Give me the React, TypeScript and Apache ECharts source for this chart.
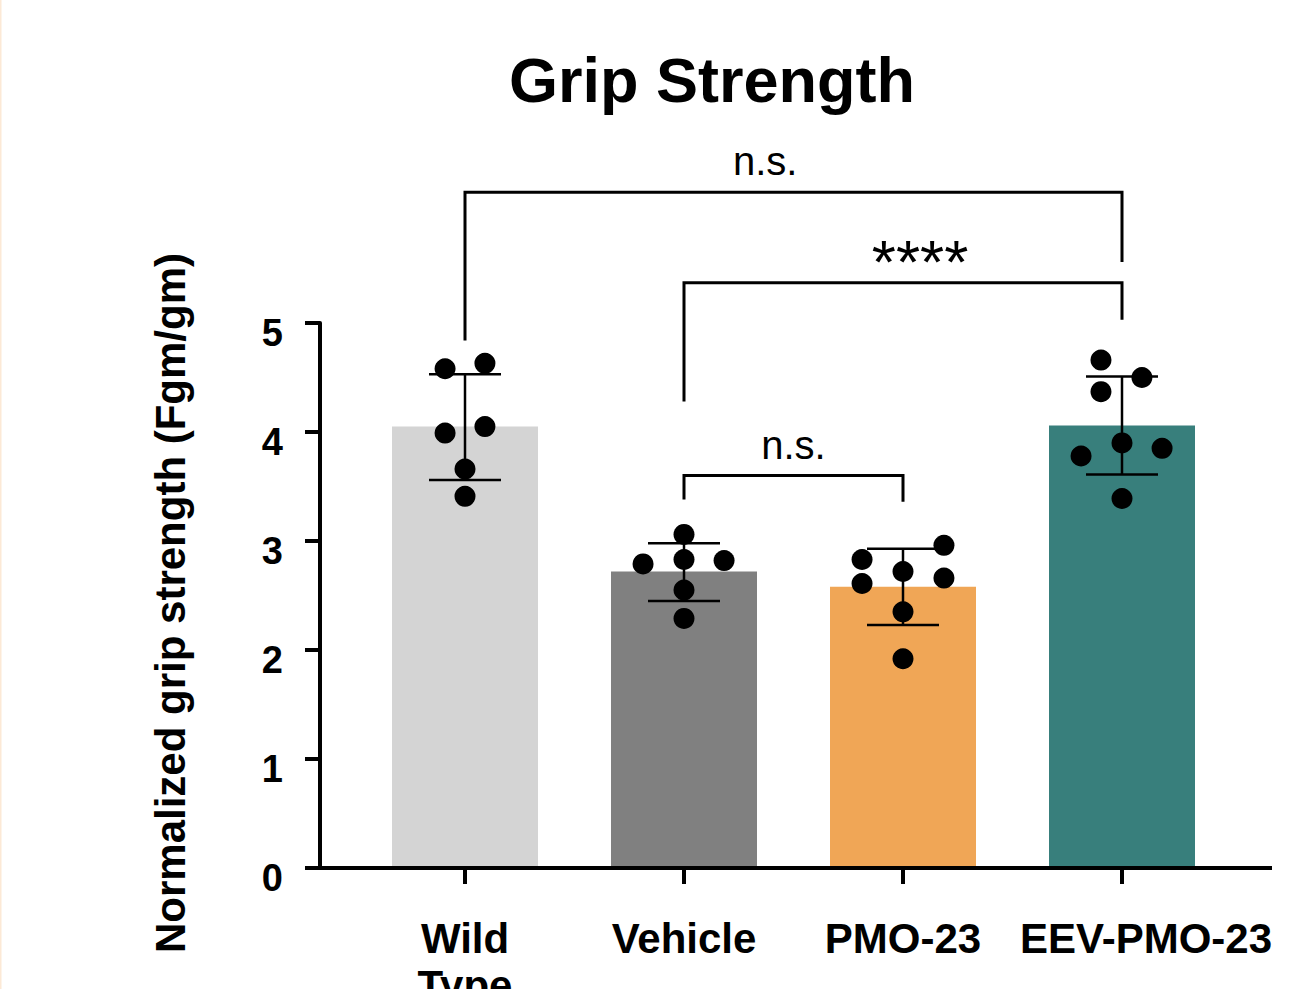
import React, { useEffect, useRef } from "react";
import * as echarts from "echarts";

// ---------- data ----------
const categories = ["Wild\nType", "Vehicle", "PMO-23", "EEV-PMO-23"];
const barColors = ["#d4d4d4", "#808080", "#f0a656", "#387f7c"];
const means = [4.05, 2.72, 2.58, 4.06];
const sdLow = [3.56, 2.45, 2.23, 3.61];
const sdHigh = [4.53, 2.98, 2.93, 4.51];
const yTicks = [0, 1, 2, 3, 4, 5];
const yTitle = "Normalized grip strength (Fgm/gm)";
const chartTitle = "Grip Strength";

const wildTypeValues = [4.58, 4.63, 3.99, 4.05, 3.66, 3.41];
const wildTypeJitter = [-0.091, 0.091, -0.091, 0.091, 0, 0];
const vehicleValues = [3.06, 2.83, 2.79, 2.82, 2.55, 2.29];
const vehicleJitter = [0, 0, -0.187, 0.183, 0, 0];
const pmoValues = [2.83, 2.61, 2.72, 2.96, 2.66, 2.35, 1.92];
const pmoJitter = [-0.187, -0.187, 0, 0.187, 0.187, 0, 0];
const eevValues = [4.66, 4.37, 4.5, 3.9, 3.78, 3.85, 3.39];
const eevJitter = [-0.096, -0.096, 0.091, 0, -0.187, 0.183, 0];

const groupValues = [wildTypeValues, vehicleValues, pmoValues, eevValues];
const groupJitter = [wildTypeJitter, vehicleJitter, pmoJitter, eevJitter];

const brackets = [
  { from: 0, to: 3, level: 6.2, leftEnd: 4.84, rightEnd: 5.56, label: "n.s.", labelAt: 0.457 },
  { from: 1, to: 3, level: 5.37, leftEnd: 4.28, rightEnd: 5.03, label: "****", labelAt: 0.539 },
  { from: 1, to: 2, level: 3.6, leftEnd: 3.38, rightEnd: 3.36, label: "n.s.", labelAt: 0.5 },
];

// ---------- layout / style ----------
const W = 1290;
const H = 989;
const FONT = "'Liberation Sans', Arial, Helvetica, sans-serif";
const GRID_LEFT = 355.5;
const GRID_RIGHT = 58.5;
const GRID_TOP = 323;
const GRID_BOTTOM = 121;
const Y_AXIS_OFFSET = 35.5;
const X_AXIS_RIGHT_END = 1272;
const CAP_HALF = 36;
const Y_TITLE_X = 170;
const Y_TITLE_Y = 603;
const labelStyle: Record<string, { size: number; gap: number }> = {
  "n.s.": { size: 40, gap: 31 },
  "****": { size: 62, gap: 21 },
};
// per-category label nudges (px, positive = right)
const labelShift = [0, 0, 0, 48];

export default function App() {
  const ref = useRef<HTMLDivElement>(null);

  useEffect(() => {
    document.body.style.margin = "0";
    if (!ref.current) return;
    const chart = echarts.init(ref.current, undefined, { renderer: "svg" });

    const scatterData: number[][] = [];
    groupValues.forEach((vals, gi) => {
      vals.forEach((v, k) => scatterData.push([gi + groupJitter[gi][k], v]));
    });

    const axisY = H - GRID_BOTTOM;

    const option: any = {
      animation: false,
      backgroundColor: "#ffffff",
      title: {
        text: chartTitle,
        left: 707,
        top: 43,
        textAlign: "center",
        textStyle: { fontFamily: FONT, fontSize: 63, fontWeight: "bold", color: "#000" },
      },
      grid: {
        left: GRID_LEFT,
        right: GRID_RIGHT,
        top: GRID_TOP,
        bottom: GRID_BOTTOM,
        outerBoundsMode: "none",
        containLabel: false,
      },
      xAxis: [
        {
          type: "category",
          data: categories.map((c, i) => ({
            value: c,
            textStyle: labelShift[i] ? { padding: [0, 0, 0, labelShift[i]] } : {},
          })),
          boundaryGap: true,
          axisLine: { show: false },
          axisTick: { show: true, alignWithLabel: true, length: 16, lineStyle: { color: "#000", width: 4 } },
          axisLabel: {
            interval: 0,
            hideOverlap: false,
            margin: 47,
            fontFamily: FONT,
            fontSize: 42,
            fontWeight: "bold",
            color: "#000",
            lineHeight: 47,
          },
          splitLine: { show: false },
        },
        {
          type: "value",
          min: -0.5,
          max: 3.5,
          show: false,
          splitLine: { show: false },
        },
      ],
      yAxis: {
        type: "value",
        min: yTicks[0],
        max: yTicks[yTicks.length - 1],
        interval: 1,
        offset: Y_AXIS_OFFSET,
        axisLine: { show: true, onZero: false, lineStyle: { color: "#000", width: 4 } },
        axisTick: { show: true, length: 15, lineStyle: { color: "#000", width: 4 } },
        axisLabel: {
          margin: 37,
          fontFamily: FONT,
          fontSize: 38,
          fontWeight: "bold",
          color: "#000",
          verticalAlign: "top",
          lineHeight: 20,
        },
        splitLine: { show: false },
      },
      graphic: [
        {
          type: "line",
          silent: true,
          z: 10,
          shape: { x1: GRID_LEFT - Y_AXIS_OFFSET - 3, y1: axisY, x2: X_AXIS_RIGHT_END, y2: axisY },
          style: { stroke: "#000", lineWidth: 4 },
        },
        {
          type: "rect",
          silent: true,
          shape: { x: 0, y: 0, width: 1.5, height: H },
          style: { fill: "#fce9d6" },
        },
        {
          type: "text",
          silent: true,
          x: Y_TITLE_X,
          y: Y_TITLE_Y,
          rotation: Math.PI / 2,
          style: {
            text: yTitle,
            align: "center",
            verticalAlign: "middle",
            fill: "#000",
            fontFamily: FONT,
            fontSize: 42,
            fontWeight: "bold",
          },
        },
      ],
      series: [
        {
          type: "bar",
          xAxisIndex: 0,
          barWidth: 146,
          z: 2,
          data: means.map((m, i) => ({ value: m, itemStyle: { color: barColors[i] } })),
        },
        {
          type: "custom",
          xAxisIndex: 1,
          z: 3,
          clip: false,
          data: means.map((_, i) => [i, sdLow[i], sdHigh[i]]),
          renderItem: (params: any, api: any) => {
            const x = api.value(0);
            const lo = api.coord([x, api.value(1)]);
            const hi = api.coord([x, api.value(2)]);
            const st = { stroke: "#000", lineWidth: 2.5 };
            return {
              type: "group",
              children: [
                { type: "line", shape: { x1: lo[0], y1: lo[1], x2: hi[0], y2: hi[1] }, style: st },
                { type: "line", shape: { x1: hi[0] - CAP_HALF, y1: hi[1], x2: hi[0] + CAP_HALF, y2: hi[1] }, style: st },
                { type: "line", shape: { x1: lo[0] - CAP_HALF, y1: lo[1], x2: lo[0] + CAP_HALF, y2: lo[1] }, style: st },
              ],
            };
          },
        },
        {
          type: "scatter",
          xAxisIndex: 1,
          z: 4,
          symbol: "circle",
          symbolSize: 21,
          itemStyle: { color: "#000", opacity: 1 },
          data: scatterData,
        },
        {
          type: "custom",
          xAxisIndex: 1,
          z: 5,
          clip: false,
          data: brackets.map((b) => [b.from, b.level]),
          renderItem: (params: any, api: any) => {
            const b = brackets[params.dataIndex];
            const pL = api.coord([b.from, b.leftEnd]);
            const pTL = api.coord([b.from, b.level]);
            const pTR = api.coord([b.to, b.level]);
            const pR = api.coord([b.to, b.rightEnd]);
            const ls = labelStyle[b.label];
            const lx = pTL[0] + (pTR[0] - pTL[0]) * b.labelAt;
            return {
              type: "group",
              children: [
                {
                  type: "polyline",
                  shape: { points: [pL, pTL, pTR, pR] },
                  style: { stroke: "#000", lineWidth: 3, fill: "none" },
                },
                {
                  type: "text",
                  style: {
                    text: b.label,
                    x: lx,
                    y: pTL[1] - ls.gap,
                    align: "center",
                    verticalAlign: "middle",
                    fill: "#000",
                    fontFamily: FONT,
                    fontSize: ls.size,
                    fontWeight: "normal",
                  },
                },
              ],
            };
          },
        },
      ],
    };

    chart.setOption(option);
    return () => {
      chart.dispose();
    };
  }, []);

  return <div ref={ref} style={{ width: W, height: H }} />;
}
